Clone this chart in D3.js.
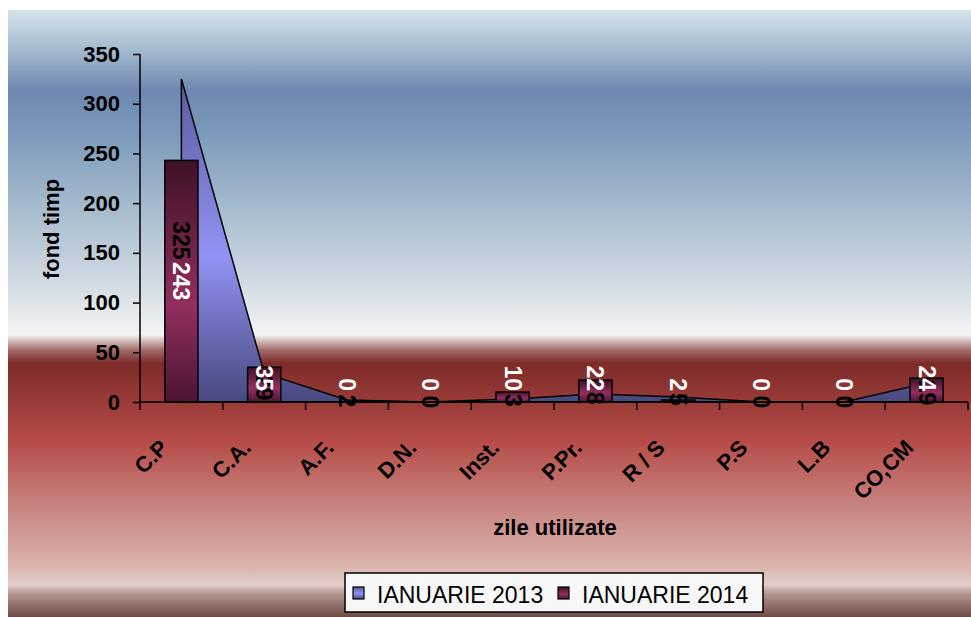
<!DOCTYPE html>
<html>
<head>
<meta charset="utf-8">
<script src="https://cdn.jsdelivr.net/npm/d3@7"></script>
<style>
  body { margin: 0; background: #fff; }
  svg { display: block; font-family: "Liberation Sans", Arial, sans-serif; }
</style>
</head>
<body>
<div id="chart"></div>
<script>
// data
const categories = ["C.P", "C.A.", "A.F.", "D.N.", "Inst.", "P.Pr.", "R / S", "P.S", "L.B", "CO,CM"];
const ian2013 = [325, 29, 2, 0, 3, 8, 5, 0, 0, 19];
const ian2014 = [243, 35, 0, 0, 10, 22, 2, 0, 0, 24];
const yTicks = [0, 50, 100, 150, 200, 250, 300, 350];
const seriesNames = ["IANUARIE 2013", "IANUARIE 2014"];

const W = 971, H = 617;
const plot = {left: 140, right: 968, top: 54, bottom: 402};

const svg = d3.select("#chart").append("svg")
    .attr("width", W)
    .attr("height", H);

const defs = svg.append("defs");

// chart background gradient
const bg = defs.append("linearGradient").attr("id", "bg")
    .attr("x1", 0).attr("y1", 0).attr("x2", 0).attr("y2", 1);
[[0, "#d6e3ec"], [0.066, "#a3bace"], [0.132, "#6f87b0"], [0.2, "#7a99ba"],
 [0.313, "#a2b8cb"], [0.445, "#cfd9e2"], [0.52, "#eef0f2"], [0.535, "#f3f3f3"],
 [0.56, "#a26c6a"], [0.582, "#7d2b29"], [0.71, "#b64c48"], [0.83, "#c98a85"],
 [0.915, "#dab2ad"], [0.947, "#e2cdc8"], [0.962, "#b39590"], [1, "#6e4a45"]]
  .forEach(s => bg.append("stop").attr("offset", s[0]).attr("stop-color", s[1]));

// series gradients
const gArea = defs.append("linearGradient").attr("id", "gArea")
    .attr("x1", 0).attr("y1", 0).attr("x2", 0).attr("y2", 1);
[[0, "#5a5c9c"], [0.55, "#9292f4"], [1, "#48497f"]]
  .forEach(s => gArea.append("stop").attr("offset", s[0]).attr("stop-color", s[1]));

const gBar = defs.append("linearGradient").attr("id", "gBar")
    .attr("x1", 0).attr("y1", 0).attr("x2", 0).attr("y2", 1);
[[0, "#3e1126"], [0.6, "#922f5f"], [1, "#4a1432"]]
  .forEach(s => gBar.append("stop").attr("offset", s[0]).attr("stop-color", s[1]));

svg.append("rect")
    .attr("x", 8).attr("y", 10)
    .attr("width", W - 8).attr("height", H - 10)
    .attr("fill", "url(#bg)");

// scales
const x = d3.scaleBand().domain(categories).range([plot.left, plot.right]).padding(0);
const y = d3.scaleLinear().domain([0, 350]).range([plot.bottom, plot.top]);
const cx = d => x(d) + x.bandwidth() / 2;
const barW = x.bandwidth() * 0.4;

const rows2013 = categories.map((c, i) => ({c, v: ian2013[i]}));
const rows2014 = categories.map((c, i) => ({c, v: ian2014[i]}));

// area series (2013)
const area = d3.area()
    .x(d => cx(d.c))
    .y0(y(0))
    .y1(d => y(d.v));

svg.append("path")
    .datum(rows2013)
    .attr("d", area)
    .attr("fill", "url(#gArea)")
    .attr("stroke", "#000")
    .attr("stroke-width", 1.5);

// bars (2014)
svg.append("g")
  .selectAll("rect")
  .data(rows2014)
  .join("rect")
    .attr("x", d => cx(d.c) - barW / 2)
    .attr("y", d => y(d.v))
    .attr("width", barW)
    .attr("height", d => y(0) - y(d.v))
    .attr("fill", "url(#gBar)")
    .attr("stroke", "#000")
    .attr("stroke-width", 1.5);

// y axis
const yAxis = svg.append("g")
    .attr("transform", `translate(${plot.left},0)`)
    .call(d3.axisLeft(y).tickValues(yTicks).tickSize(7).tickPadding(13));
yAxis.select(".domain").attr("stroke", "#000").attr("stroke-width", 1.5).attr("d", `M0,${plot.top}V${plot.bottom}`);
yAxis.selectAll(".tick line").attr("stroke", "#000").attr("stroke-width", 1.5);
yAxis.selectAll(".tick text")
    .attr("font-size", 22).attr("font-weight", "bold").attr("fill", "#000")
    .attr("font-family", "Liberation Sans, Arial, sans-serif");

// x axis with ticks on category boundaries
const xAxis = svg.append("g").attr("transform", `translate(0,${plot.bottom})`);
xAxis.append("line")
    .attr("x1", plot.left).attr("x2", plot.right)
    .attr("stroke", "#000").attr("stroke-width", 1.5);
xAxis.selectAll(".xt")
  .data(categories.concat(["end"]))
  .join("line")
    .attr("class", "xt")
    .attr("x1", (d, i) => i < categories.length ? x(d) : plot.right)
    .attr("x2", (d, i) => i < categories.length ? x(d) : plot.right)
    .attr("y1", 0).attr("y2", 8)
    .attr("stroke", "#000").attr("stroke-width", 1.5);
xAxis.selectAll(".xl")
  .data(categories)
  .join("text")
    .attr("class", "xl")
    .attr("transform", d => `translate(${cx(d) - 12},${47}) rotate(-45)`)
    .attr("text-anchor", "end")
    .attr("font-size", 22).attr("font-weight", "bold")
    .text(d => d);

// data labels, rotated
const labelFont = 23;
svg.append("g")
  .selectAll("text")
  .data(rows2013)
  .join("text")
    .attr("transform", d => `translate(${cx(d.c)},${y(d.v / 2)}) rotate(90)`)
    .attr("text-anchor", "middle")
    .attr("dy", "0.35em")
    .attr("font-size", labelFont).attr("font-weight", "bold")
    .attr("fill", "#000")
    .text(d => d.v);

svg.append("g")
  .selectAll("text")
  .data(rows2014)
  .join("text")
    .attr("transform", d => {
      const len = String(d.v).length * 12.8;
      const cy = Math.min(y(d.v / 2), y(0) - 11 - len / 2);
      return `translate(${cx(d.c)},${cy}) rotate(90)`;
    })
    .attr("text-anchor", "middle")
    .attr("dy", "0.35em")
    .attr("font-size", labelFont).attr("font-weight", "bold")
    .attr("fill", "#fff")
    .text(d => d.v);

// axis titles
svg.append("text")
    .attr("transform", `translate(59,229) rotate(-90)`)
    .attr("text-anchor", "middle")
    .attr("font-size", 22).attr("font-weight", "bold")
    .text("fond timp");

svg.append("text")
    .attr("x", 555).attr("y", 535)
    .attr("text-anchor", "middle")
    .attr("font-size", 22).attr("font-weight", "bold")
    .text("zile utilizate");

// legend
const legend = svg.append("g");
legend.append("rect")
    .attr("x", 345).attr("y", 573)
    .attr("width", 418).attr("height", 39)
    .attr("fill", "#f7f7f7")
    .attr("stroke", "#000").attr("stroke-width", 1.5);

const legendItems = [
  {name: seriesNames[0], fill: "url(#gArea)", x: 353},
  {name: seriesNames[1], fill: "url(#gBar)", x: 558}
];
const li = legend.selectAll(".li")
  .data(legendItems)
  .join("g")
    .attr("class", "li")
    .attr("transform", d => `translate(${d.x},587)`);
li.append("rect")
    .attr("width", 11).attr("height", 12)
    .attr("fill", d => d.fill)
    .attr("stroke", "#000").attr("stroke-width", 1.2);
li.append("text")
    .attr("x", 24).attr("y", 16)
    .attr("font-size", 23)
    .text(d => d.name);
</script>
</body>
</html>
